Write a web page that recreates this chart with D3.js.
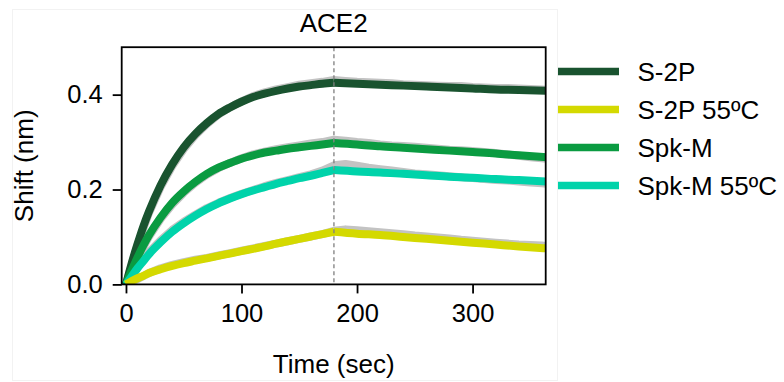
<!DOCTYPE html>
<html>
<head>
<meta charset="utf-8">
<script src="https://cdn.jsdelivr.net/npm/d3@7"></script>
<style>
  body { margin: 0; background: #fff; }
  text { font-family: "Liberation Sans", Arial, sans-serif; fill: #000; }
</style>
</head>
<body>
<script>
// series names, colours
var seriesNames = ["S-2P", "S-2P 55ºC", "Spk-M", "Spk-M 55ºC"];
var seriesColors = ["#19532f", "#d4d900", "#0a9b41", "#00d3aa"];
var drawOrder = [0, 2, 3, 1];

// fitted curves (association 0-180 s, dissociation 180-364 s)
var tFit = [0, 5, 10, 15, 20, 30, 40, 50, 60, 70, 80, 90, 100, 110, 120, 130, 140, 150, 160, 170, 180,
            200, 220, 240, 260, 280, 300, 320, 340, 364];
var fitS2P = [0, 0.045, 0.085, 0.122, 0.154, 0.209, 0.253, 0.289, 0.317, 0.340, 0.359, 0.373, 0.385, 0.395, 0.402, 0.408, 0.413, 0.417, 0.420, 0.423, 0.425,
              0.423, 0.421, 0.419, 0.417, 0.415, 0.413, 0.411, 0.410, 0.408];
var fitS2P55 = [0, 0.007, 0.013, 0.018, 0.024, 0.032, 0.039, 0.045, 0.050, 0.055, 0.060, 0.065, 0.070, 0.075, 0.080, 0.086, 0.091, 0.096, 0.101, 0.106, 0.111,
                0.107, 0.104, 0.100, 0.096, 0.092, 0.088, 0.084, 0.080, 0.076];
var fitSpkM = [0, 0.030, 0.057, 0.082, 0.104, 0.141, 0.172, 0.196, 0.216, 0.233, 0.246, 0.256, 0.265, 0.272, 0.278, 0.282, 0.286, 0.289, 0.292, 0.295, 0.298,
               0.295, 0.291, 0.288, 0.285, 0.282, 0.279, 0.276, 0.272, 0.268];
var fitSpkM55 = [0, 0.017, 0.034, 0.049, 0.064, 0.089, 0.111, 0.129, 0.145, 0.159, 0.171, 0.181, 0.190, 0.198, 0.205, 0.212, 0.218, 0.224, 0.229, 0.235, 0.241,
                 0.238, 0.236, 0.233, 0.230, 0.227, 0.225, 0.222, 0.220, 0.217];

// raw sensor traces (grey)
var tRaw = [0, 10, 20, 30, 40, 50, 60, 70, 80, 90, 100, 110, 120, 130, 140, 150, 160, 170, 180,
            190, 200, 210, 220, 230, 240, 250, 260, 270, 280, 290, 300, 310, 320, 330, 340, 350, 360, 364];
var rawS2P = [0, 0.083, 0.151, 0.205, 0.249, 0.285, 0.314, 0.338, 0.358, 0.373, 0.386, 0.397, 0.405, 0.411, 0.416, 0.421, 0.424, 0.427, 0.431,
              0.429, 0.427, 0.426, 0.425, 0.424, 0.422, 0.421, 0.420, 0.419, 0.418, 0.418, 0.416, 0.415, 0.414, 0.414, 0.413, 0.412, 0.411, 0.410];
var rawS2P55 = [0, 0.011, 0.024, 0.034, 0.041, 0.047, 0.052, 0.056, 0.061, 0.066, 0.071, 0.076, 0.081, 0.086, 0.091, 0.096, 0.101, 0.106, 0.113,
                0.116, 0.114, 0.112, 0.110, 0.108, 0.106, 0.103, 0.101, 0.099, 0.097, 0.094, 0.092, 0.090, 0.088, 0.086, 0.084, 0.083, 0.082, 0.081];
var rawSpkM = [0, 0.055, 0.101, 0.138, 0.168, 0.193, 0.214, 0.231, 0.245, 0.256, 0.266, 0.274, 0.280, 0.285, 0.289, 0.293, 0.297, 0.300, 0.305,
               0.303, 0.300, 0.298, 0.295, 0.293, 0.292, 0.290, 0.288, 0.286, 0.284, 0.283, 0.281, 0.279, 0.277, 0.274, 0.271, 0.268, 0.266, 0.265];
var rawSpkM55 = [0, 0.037, 0.068, 0.093, 0.115, 0.132, 0.147, 0.161, 0.172, 0.182, 0.191, 0.199, 0.207, 0.214, 0.220, 0.226, 0.232, 0.240, 0.251,
                 0.254, 0.250, 0.246, 0.243, 0.240, 0.237, 0.234, 0.232, 0.230, 0.228, 0.226, 0.224, 0.222, 0.220, 0.219, 0.217, 0.215, 0.213, 0.212];

var fits = [fitS2P, fitS2P55, fitSpkM, fitSpkM55];
var raws = [rawS2P, rawS2P55, rawSpkM, rawSpkM55];

var xTicks = [0, 100, 200, 300];
var yTicks = [0, 0.2, 0.4];
var switchTime = 180;

var width = 784, height = 382;
var plot = { left: 121.7, top: 47.2, right: 545.7, bottom: 284.4 };

var svg = d3.select("body")
    .append("svg")
    .attr("width", width)
    .attr("height", height);

// faint figure border
svg.append("rect")
    .attr("x", 12.5).attr("y", 9.5)
    .attr("width", 545).attr("height", 371)
    .attr("fill", "none")
    .attr("stroke", "#f2f2f2");

var x = d3.scaleLinear()
    .domain([-3.7, 363.3])
    .range([plot.left, plot.right]);

var y = d3.scaleLinear()
    .domain([0, 0.5])
    .range([plot.bottom, plot.top]);

svg.append("clipPath")
    .attr("id", "clip")
    .append("rect")
    .attr("x", plot.left).attr("y", plot.top)
    .attr("width", plot.right - plot.left)
    .attr("height", plot.bottom - plot.top);

var g = svg.append("g").attr("clip-path", "url(#clip)");

var line = d3.line()
    .x(function (d) { return x(d[0]); })
    .y(function (d) { return y(d[1]); });

// raw data first
raws.forEach(function (r) {
    var pts = tRaw.map(function (t, i) { return [t, r[i]]; });
    g.append("path")
        .attr("d", line(pts))
        .attr("fill", "none")
        .attr("stroke", "#c3c3c3")
        .attr("stroke-width", 8)
        .attr("stroke-linejoin", "round");
});

// fitted curves, split at the switch from association to dissociation
var smooth = d3.line()
    .x(function (d) { return x(d[0]); })
    .y(function (d) { return y(d[1]); })
    .curve(d3.curveMonotoneX);

drawOrder.forEach(function (k) {
    var f = fits[k];
    var pts = tFit.map(function (t, i) { return [t, f[i]]; });
    var assoc = pts.filter(function (p) { return p[0] <= switchTime; });
    var dissoc = pts.filter(function (p) { return p[0] >= switchTime; });
    [assoc, dissoc].forEach(function (seg) {
        g.append("path")
            .attr("d", smooth(seg))
            .attr("fill", "none")
            .attr("stroke", seriesColors[k])
            .attr("stroke-width", 8)
            .attr("stroke-linejoin", "round");
    });
});

// dashed line at buffer switch
svg.append("line")
    .attr("x1", x(switchTime)).attr("x2", x(switchTime))
    .attr("y1", plot.top).attr("y2", plot.bottom)
    .attr("stroke", "#7f7f7f")
    .attr("stroke-width", 1.3)
    .attr("stroke-dasharray", "4,3");

// frame
svg.append("rect")
    .attr("x", plot.left).attr("y", plot.top)
    .attr("width", plot.right - plot.left)
    .attr("height", plot.bottom - plot.top)
    .attr("fill", "none")
    .attr("stroke", "#000")
    .attr("stroke-width", 1.8);

// axes
var xAxis = svg.append("g")
    .attr("transform", "translate(0," + plot.bottom + ")")
    .call(d3.axisBottom(x).tickValues(xTicks).tickSize(9).tickPadding(11));

var yAxis = svg.append("g")
    .attr("transform", "translate(" + plot.left + ",0)")
    .call(d3.axisLeft(y).tickValues(yTicks).tickFormat(d3.format(".1f")).tickSize(9).tickPadding(10));

[xAxis, yAxis].forEach(function (a) {
    a.select(".domain").remove();
    a.selectAll(".tick line").attr("stroke", "#000").attr("stroke-width", 1.8);
    a.selectAll(".tick text")
        .attr("font-size", 25.5)
        .attr("font-family", "Liberation Sans, Arial, sans-serif")
        .attr("fill", "#000");
});

// title and axis labels
var midX = (plot.left + plot.right) / 2;
svg.append("text")
    .attr("x", midX).attr("y", 31.5)
    .attr("text-anchor", "middle")
    .attr("font-size", 26)
    .text("ACE2");

svg.append("text")
    .attr("x", midX).attr("y", 373)
    .attr("text-anchor", "middle")
    .attr("font-size", 26)
    .text("Time (sec)");

svg.append("text")
    .attr("transform", "translate(33," + ((plot.top + plot.bottom) / 2) + ") rotate(-90)")
    .attr("text-anchor", "middle")
    .attr("font-size", 26)
    .text("Shift (nm)");

// legend
var legend = svg.append("g");
seriesNames.forEach(function (name, i) {
    var ly = 71.5 + i * 38;
    legend.append("line")
        .attr("x1", 558).attr("x2", 619)
        .attr("y1", ly).attr("y2", ly)
        .attr("stroke", seriesColors[i])
        .attr("stroke-width", 7.5);
    legend.append("text")
        .attr("x", 637.5).attr("y", ly + 9.5)
        .attr("font-size", 26)
        .text(name);
});
</script>
</body>
</html>
